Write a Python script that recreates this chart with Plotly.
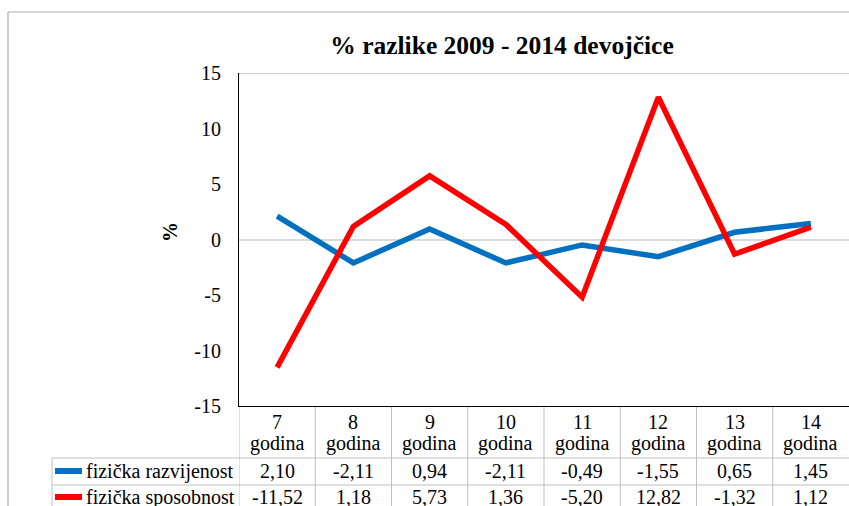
import plotly.graph_objects as go

W, H = 849, 506

categories = ["7 godina", "8 godina", "9 godina", "10 godina",
              "11 godina", "12 godina", "13 godina", "14 godina"]
series_names = ["fizička razvijenost", "fizička sposobnost"]
razvijenost = [2.10, -2.11, 0.94, -2.11, -0.49, -1.55, 0.65, 1.45]
sposobnost = [-11.52, 1.18, 5.73, 1.36, -5.20, 12.82, -1.32, 1.12]
colors = ["#0070C0", "#FF0000"]
title_text = "% razlike 2009 - 2014 devojčice"
y_ticks = [-15, -10, -5, 0, 5, 10, 15]

FONT = "'Liberation Serif', 'Times New Roman', serif"
GRID = "#BFBFBF"
FS = 20


def py(px):
    return (H - px) / H


def pxx(px):
    return px / W


n = len(categories)
xs = list(range(n))

fig = go.Figure()
for name, vals, col in zip(series_names, [razvijenost, sposobnost], colors):
    fig.add_trace(go.Scatter(x=xs, y=vals, mode="lines", name=name,
                             line=dict(color=col, width=5.5),
                             showlegend=False, hoverinfo="skip"))

shapes = []
annotations = []

# outer chart border
shapes.append(dict(type="line", xref="paper", yref="paper",
                   x0=pxx(8), x1=1.0, y0=py(12), y1=py(12),
                   line=dict(color="#ABABAB", width=1.2)))
shapes.append(dict(type="line", xref="paper", yref="paper",
                   x0=pxx(8), x1=pxx(8), y0=py(12), y1=0,
                   line=dict(color="#ABABAB", width=1.2)))
# top of plot area
shapes.append(dict(type="line", xref="x", yref="y",
                   x0=-0.5, x1=n - 0.5, y0=15, y1=15,
                   line=dict(color=GRID, width=1.5)))

# data table grid
row1_top, row2_top = 458, 485
for ypx in [row1_top, row2_top]:
    shapes.append(dict(type="line", xref="paper", yref="paper",
                       x0=pxx(52), x1=1.0, y0=py(ypx), y1=py(ypx),
                       line=dict(color=GRID, width=1)))
shapes.append(dict(type="line", xref="paper", yref="paper",
                   x0=pxx(52), x1=pxx(52), y0=py(row1_top), y1=0,
                   line=dict(color=GRID, width=1)))
for i in range(n):
    shapes.append(dict(type="line", xref="x", yref="paper",
                       x0=i - 0.5, x1=i - 0.5, y0=py(407), y1=0,
                       line=dict(color=GRID, width=1)))

# category header (two lines per category)
for i, cat in enumerate(categories):
    num, word = cat.split(" ", 1)
    for txt, yc in [(num, 422), (word, 443)]:
        annotations.append(dict(x=i, y=py(yc), xref="x", yref="paper",
                                text=txt, showarrow=False, xanchor="center",
                                yanchor="middle",
                                font=dict(family=FONT, size=FS, color="#000")))

# legend keys + names + values
row_centers = [471, 497]
for name, vals, col, yc in zip(series_names, [razvijenost, sposobnost], colors, row_centers):
    shapes.append(dict(type="line", xref="paper", yref="paper",
                       x0=pxx(55), x1=pxx(82), y0=py(yc), y1=py(yc),
                       line=dict(color=col, width=6)))
    annotations.append(dict(x=pxx(84), y=py(yc), xref="paper", yref="paper",
                            text=name, showarrow=False, xanchor="left",
                            yanchor="middle",
                            font=dict(family=FONT, size=FS, color="#000")))
    for i, v in enumerate(vals):
        annotations.append(dict(x=i, y=py(yc), xref="x", yref="paper",
                                text=f"{v:.2f}".replace(".", ","),
                                showarrow=False, xanchor="center",
                                yanchor="middle",
                                font=dict(family=FONT, size=FS, color="#000")))

# y axis title
annotations.append(dict(x=pxx(170), y=py(232), xref="paper", yref="paper",
                        text="<b>%</b>", textangle=-90, showarrow=False,
                        xanchor="center", yanchor="middle",
                        font=dict(family=FONT, size=FS, color="#000")))

fig.update_layout(
    width=W, height=H,
    margin=dict(l=0, r=0, t=0, b=0, autoexpand=False),
    paper_bgcolor="white", plot_bgcolor="white",
    title=dict(text="<b>" + title_text + "</b>", x=pxx(502), y=py(45),
               xref="container", yref="container",
               xanchor="center", yanchor="middle", automargin=False,
               font=dict(family=FONT, size=25.5, color="#000")),
    xaxis=dict(domain=[pxx(239), 1.0], range=[-0.5, n - 0.5],
               tickmode="array", tickvals=xs, showticklabels=False,
               showgrid=False, zeroline=False, automargin=False,
               showline=True, linecolor="#000", linewidth=1.2, ticks=""),
    yaxis=dict(domain=[py(406), py(73)], range=[-15, 15],
               tickmode="array", tickvals=y_ticks,
               ticktext=[str(v) for v in y_ticks],
               showgrid=False, zeroline=True, zerolinecolor="#D9D9D9",
               zerolinewidth=2, automargin=False,
               showline=True, linecolor="#000", linewidth=1.2,
               ticks="", ticklabelstandoff=13,
               tickfont=dict(family=FONT, size=FS, color="#000")),
    shapes=shapes,
    annotations=annotations,
)

fig.write_html("out.html", config={"displayModeBar": False},
               post_script="document.body.style.margin='0';document.body.style.overflow='hidden';")
